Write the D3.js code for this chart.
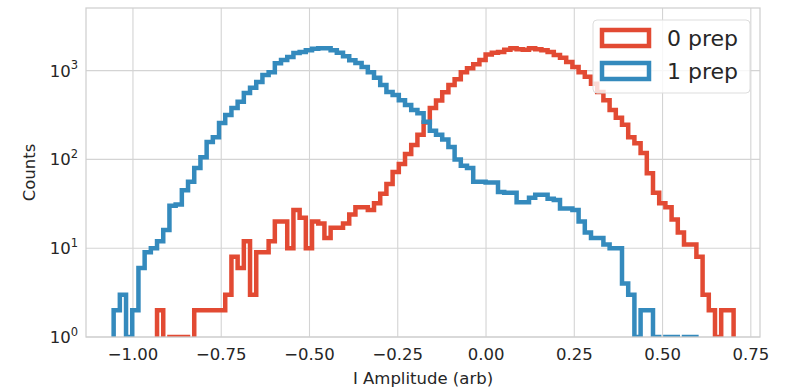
<!DOCTYPE html>
<html>
<head>
<meta charset="utf-8">
<script src="https://cdn.jsdelivr.net/npm/d3@7"></script>
<style>
  html, body { margin: 0; padding: 0; background: #ffffff; }
  svg { display: block; font-family: "DejaVu Sans", sans-serif; }
</style>
</head>
<body>
<svg id="chart" width="786" height="389"></svg>
<script>
// ---- data ----
const seriesNames = ["0 prep", "1 prep"];
const seriesColors = ["#E24A33", "#348ABD"];
const binStart = -1.0547;
const binEnd = 0.7012;
const binCount = 100;

const counts0prep = [
  0, 0, 0, 0, 0, 0, 0, 2, 0, 1,
  1, 1, 0, 2, 2, 2, 2, 2, 3, 8,
  6, 12, 3, 9, 9, 12, 20, 20, 10, 27,
  22, 10, 20, 19, 13, 17, 17, 19, 24, 29,
  29, 27, 32, 41, 53, 72, 89, 115, 145, 190,
  260, 380, 460, 570, 690, 800, 960, 1060, 1180, 1320,
  1520, 1590, 1620, 1720, 1790, 1740, 1720, 1780, 1740, 1700,
  1620, 1500, 1400, 1250, 1100, 960, 850, 710, 575, 465,
  360, 295, 245, 178, 152, 118, 70, 42, 32, 29,
  21, 15, 11, 11, 8, 3, 2, 1, 2, 2
];
const counts1prep = [
  2, 3, 1, 2, 6, 9, 10, 12, 16, 30,
  31, 45, 56, 80, 106, 157, 178, 257, 316, 380,
  445, 560, 640, 745, 890, 960, 1210, 1320, 1420, 1580,
  1620, 1700, 1760, 1780, 1780, 1700, 1590, 1450, 1310, 1220,
  1100, 960, 830, 690, 575, 530, 465, 410, 360, 330,
  265, 210, 190, 168, 138, 100, 85, 80, 56, 56,
  55, 55, 43, 42, 42, 33, 33, 37, 40, 40,
  36, 35, 28, 28, 27, 20, 15, 13, 13, 11,
  10, 10, 4, 3, 1, 2, 2, 1, 0, 1,
  1, 0, 1, 1, 0, 0, 0, 0, 0, 0
];
const xTicks = [-1.00, -0.75, -0.50, -0.25, 0.00, 0.25, 0.50, 0.75];
const yTickExponents = [0, 1, 2, 3];
const xLabel = "I Amplitude (arb)";
const yLabel = "Counts";

// ---- layout ----
const plot = { left: 86, right: 760, top: 8, bottom: 337 };
const svg = d3.select("#chart");

const x = d3.scaleLinear().domain([-1.133, 0.776]).range([plot.left, plot.right]);
const y = d3.scaleLog().domain([1, Math.pow(10, 3.705)]).range([plot.bottom, plot.top]);

const gridColor = "#d4d4d4";
const textColor = "#262626";

// grid
const g = svg.append("g");
g.selectAll("line.vg").data(xTicks).enter().append("line")
  .attr("x1", d => x(d)).attr("x2", d => x(d))
  .attr("y1", plot.top).attr("y2", plot.bottom)
  .attr("stroke", gridColor).attr("stroke-width", 1.1);
g.selectAll("line.hg").data(yTickExponents).enter().append("line")
  .attr("x1", plot.left).attr("x2", plot.right)
  .attr("y1", d => y(Math.pow(10, d))).attr("y2", d => y(Math.pow(10, d)))
  .attr("stroke", gridColor).attr("stroke-width", 1.1);

// clip
svg.append("defs").append("clipPath").attr("id", "plotclip")
  .append("rect").attr("x", plot.left).attr("y", plot.top)
  .attr("width", plot.right - plot.left).attr("height", plot.bottom - plot.top);

// histogram steps
const binW = (binEnd - binStart) / binCount;
const edges = d3.range(binCount + 1).map(i => binStart + i * binW);
function stepPoints(counts) {
  const pts = [[edges[0], 1e-3]];
  counts.forEach((c, i) => {
    pts.push([edges[i], c]);
    pts.push([edges[i + 1], c]);
  });
  pts.push([edges[binCount], 1e-3]);
  return pts;
}
const line = d3.line()
  .x(d => x(d[0]))
  .y(d => y(Math.max(d[1], 1e-3)));

const hg = svg.append("g").attr("clip-path", "url(#plotclip)");
[counts0prep, counts1prep].forEach((counts, k) => {
  hg.append("path")
    .attr("d", line(stepPoints(counts)))
    .attr("fill", "none")
    .attr("stroke", seriesColors[k])
    .attr("stroke-width", 4.5)
    .attr("stroke-linejoin", "miter");
});

// frame
svg.append("rect")
  .attr("x", plot.left).attr("y", plot.top)
  .attr("width", plot.right - plot.left).attr("height", plot.bottom - plot.top)
  .attr("fill", "none").attr("stroke", "#cfcfcf").attr("stroke-width", 1.25);

// x tick labels
const fmt = d3.format(".2f");
svg.selectAll("text.xt").data(xTicks).enter().append("text")
  .attr("x", d => x(d)).attr("y", 360)
  .attr("text-anchor", "middle")
  .attr("font-size", 16.5).attr("fill", textColor)
  .text(d => fmt(d).replace("-", "\u2212"));

// y tick labels
yTickExponents.forEach(e => {
  const t = svg.append("text")
    .attr("x", 78).attr("y", y(Math.pow(10, e)) + 6)
    .attr("text-anchor", "end")
    .attr("font-size", 16.5).attr("fill", textColor);
  t.append("tspan").text("10");
  t.append("tspan").attr("font-size", 11.5).attr("dy", -7.5).text(String(e));
});

// axis labels
svg.append("text")
  .attr("x", (plot.left + plot.right) / 2).attr("y", 384)
  .attr("text-anchor", "middle").attr("font-size", 16.5).attr("fill", textColor)
  .text(xLabel);
svg.append("text")
  .attr("transform", `translate(35, ${(plot.top + plot.bottom) / 2}) rotate(-90)`)
  .attr("text-anchor", "middle").attr("font-size", 16.5).attr("fill", textColor)
  .text(yLabel);

// legend
const lg = svg.append("g");
lg.append("rect")
  .attr("x", 593).attr("y", 20).attr("width", 157).attr("height", 73)
  .attr("rx", 4).attr("ry", 4)
  .attr("fill", "#ffffff").attr("fill-opacity", 0.8)
  .attr("stroke", "#dddddd").attr("stroke-width", 1);
seriesNames.forEach((name, k) => {
  const cy = 38 + k * 33;
  lg.append("rect")
    .attr("x", 602).attr("y", cy - 8).attr("width", 47).attr("height", 16)
    .attr("fill", "none").attr("stroke", seriesColors[k]).attr("stroke-width", 4.5);
  lg.append("text")
    .attr("x", 667).attr("y", cy + 8)
    .attr("font-size", 22).attr("fill", textColor)
    .text(name);
});
</script>
</body>
</html>
